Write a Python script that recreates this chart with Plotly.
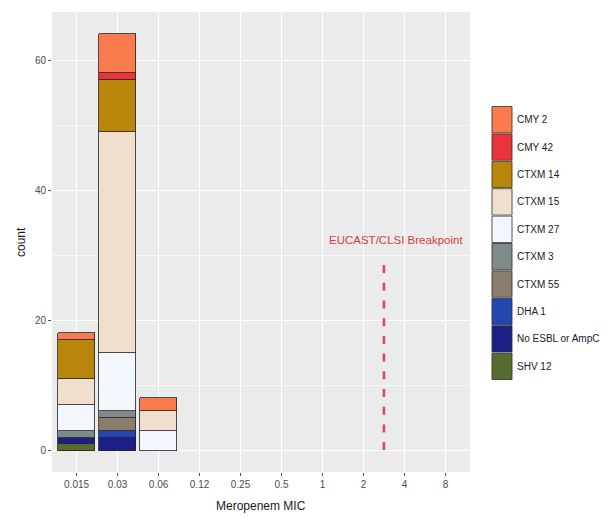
import plotly.graph_objects as go

# ---- data ----
mic_labels = ["0.015", "0.03", "0.06", "0.12", "0.25", "0.5", "1", "2", "4", "8"]
genotypes = ["CMY 2", "CMY 42", "CTXM 14", "CTXM 15", "CTXM 27",
             "CTXM 3", "CTXM 55", "DHA 1", "No ESBL or AmpC", "SHV 12"]
cmy2 = [1, 6, 2, 0, 0, 0, 0, 0, 0, 0]
cmy42 = [0, 1, 0, 0, 0, 0, 0, 0, 0, 0]
ctxm14 = [6, 8, 0, 0, 0, 0, 0, 0, 0, 0]
ctxm15 = [4, 34, 3, 0, 0, 0, 0, 0, 0, 0]
ctxm27 = [4, 9, 3, 0, 0, 0, 0, 0, 0, 0]
ctxm3 = [1, 1, 0, 0, 0, 0, 0, 0, 0, 0]
ctxm55 = [0, 2, 0, 0, 0, 0, 0, 0, 0, 0]
dha1 = [0, 1, 0, 0, 0, 0, 0, 0, 0, 0]
no_esbl = [1, 2, 0, 0, 0, 0, 0, 0, 0, 0]
shv12 = [1, 0, 0, 0, 0, 0, 0, 0, 0, 0]
y_ticks = [0, 20, 40, 60]
breakpoint_pos = 7.5
breakpoint_top = 28.5
breakpoint_label = "EUCAST/CLSI Breakpoint"
breakpoint_label_pos = (7.8, 32.3)

series = [cmy2, cmy42, ctxm14, ctxm15, ctxm27, ctxm3, ctxm55, dha1, no_esbl, shv12]
colors = ["#f77b4d", "#e8343a", "#b8860b", "#efdfcc", "#f2f7fd",
          "#7f8a8a", "#8b7d6b", "#2346b0", "#1b1f86", "#556b2f"]

# ---- layout geometry (pixels) ----
W, H = 606, 518
PL, PR, PT, PB = 52, 470, 12, 472

fig = go.Figure()
xs = list(range(len(mic_labels)))
# ggplot stacks first level on top -> add traces bottom-up
for name, vals, col in reversed(list(zip(genotypes, series, colors))):
    fig.add_trace(go.Bar(
        x=xs, y=[v if v else None for v in vals], name=name,
        marker=dict(color=col, line=dict(color="#222222", width=0.8)),
        width=0.9, showlegend=False,
    ))

fig.add_trace(go.Scatter(
    x=[breakpoint_pos, breakpoint_pos], y=[breakpoint_top, 0], mode="lines",
    line=dict(color="#e4474d", width=2.6, dash="8px,9.7px"), showlegend=False,
    hoverinfo="skip",
))
fig.add_annotation(x=breakpoint_label_pos[0], y=breakpoint_label_pos[1],
                   text=breakpoint_label, showarrow=False,
                   font=dict(family="Liberation Sans", size=11.5, color="#dc3a3f"))

# ---- manual ggplot-like legend ----
def px_x(p):
    return (p - PL) / (PR - PL)

def px_y(p):
    return (PB - p) / (PB - PT)

key_top = 106
key_h = 27.4
for i, (name, col) in enumerate(zip(genotypes, colors)):
    t = key_top + i * key_h
    fig.add_shape(type="rect", xref="paper", yref="paper",
                  x0=px_x(491), x1=px_x(513), y0=px_y(t), y1=px_y(t + key_h),
                  fillcolor="#f2f2f2", line=dict(width=0), layer="above")
    fig.add_shape(type="rect", xref="paper", yref="paper",
                  x0=px_x(492), x1=px_x(512), y0=px_y(t + 0.5), y1=px_y(t + key_h - 0.5),
                  fillcolor=col, line=dict(color="#333333", width=0.8), layer="above")
    fig.add_annotation(xref="paper", yref="paper", x=px_x(515), y=px_y(t + key_h / 2),
                       text=name, showarrow=False, xanchor="left", yanchor="middle",
                       font=dict(family="Liberation Sans", size=10, color="#1a1a1a"))

# axis titles
fig.add_annotation(xref="paper", yref="paper", x=0.5, y=px_y(506),
                   text="Meropenem MIC", showarrow=False, yanchor="middle",
                   font=dict(family="Liberation Sans", size=12, color="#1a1a1a"))
fig.add_annotation(xref="paper", yref="paper", x=px_x(21), y=0.5,
                   text="count", showarrow=False, textangle=-90, xanchor="center",
                   font=dict(family="Liberation Sans", size=12, color="#1a1a1a"))

fig.update_layout(
    width=W, height=H,
    margin=dict(l=PL, r=W - PR, t=PT, b=H - PB, autoexpand=False),
    paper_bgcolor="white", plot_bgcolor="#ebebeb",
    barmode="stack", bargap=0,
    font=dict(family="Liberation Sans", size=10, color="#4d4d4d"),
    xaxis=dict(range=[-0.6, 9.6], tickmode="array", tickvals=xs, ticktext=mic_labels,
               showgrid=True, gridcolor="white", gridwidth=1.1, zeroline=False,
               ticks="outside", ticklen=3, tickcolor="#555555", tickwidth=1,
               tickfont=dict(size=10, color="#4d4d4d"), showline=False, fixedrange=True),
    yaxis=dict(range=[-3.3, 67.4], tickmode="array", tickvals=y_ticks,
               showgrid=True, gridcolor="white", gridwidth=1.1, zeroline=False,
               minor=dict(tickmode="array", tickvals=[10, 30, 50], showgrid=True,
                          gridcolor="#f7f7f7", gridwidth=0.6),
               ticks="outside", ticklen=3, tickcolor="#555555", tickwidth=1,
               tickfont=dict(size=10, color="#4d4d4d"), showline=False, fixedrange=True),
)

fig.write_html("out.html", post_script="document.body.style.margin='0';",
               config={"displayModeBar": False})
